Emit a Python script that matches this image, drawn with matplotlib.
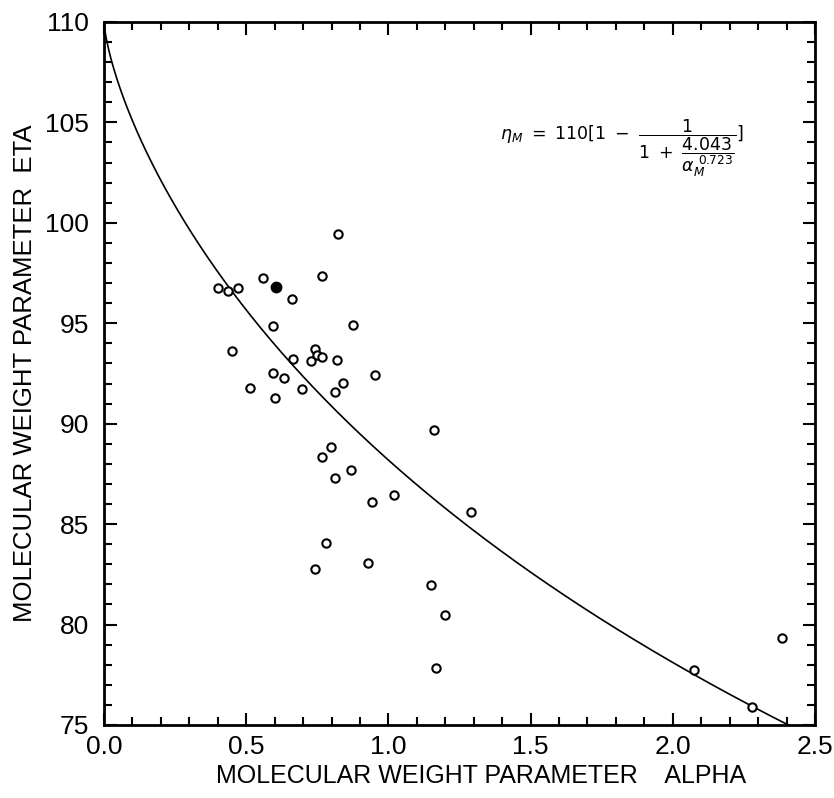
import numpy as np
import matplotlib
matplotlib.use("Agg")
import matplotlib.pyplot as plt
from matplotlib.ticker import MultipleLocator

# measured points (alpha, eta)
alpha_open = [0.824, 0.768, 0.558, 0.402, 0.435, 0.470, 0.660, 0.593, 0.874,
              0.449, 0.741, 0.748, 0.768, 0.729, 0.666, 0.820, 0.953, 0.595,
              0.633, 0.839, 0.512, 0.696, 0.811, 0.601, 1.161, 0.798, 0.768,
              0.869, 0.812, 1.019, 0.942, 1.292, 0.781, 0.927, 0.743, 1.150,
              1.200, 1.167, 2.075, 2.280, 2.385]
eta_open = [99.45, 97.37, 97.27, 96.76, 96.63, 96.74, 96.20, 94.87, 94.90,
            93.62, 93.71, 93.42, 93.31, 93.11, 93.21, 93.18, 92.40, 92.53,
            92.25, 92.03, 91.77, 91.73, 91.58, 91.27, 89.71, 88.83, 88.33,
            87.70, 87.30, 86.46, 86.12, 85.59, 84.05, 83.05, 82.77, 81.96,
            80.48, 77.83, 77.72, 75.92, 79.35]

alpha_filled = [0.605]
eta_filled = [96.80]

# fitted relation printed on the chart
eta_max = 110.0
coef = 4.043
expo = 0.723

x_ticks = [0.0, 0.5, 1.0, 1.5, 2.0, 2.5]
x_ticklabels = ["0.0", "0.5", "1.0", "1.5", "2.0", "2.5"]
y_ticks = [75, 80, 85, 90, 95, 100, 105, 110]

plt.rcParams["font.family"] = ["Liberation Sans", "DejaVu Sans"]

fig = plt.figure(figsize=(8.34, 7.98), dpi=100)
ax = fig.add_axes([0.1247, 0.0915, 0.8525, 0.881])

a = np.linspace(1e-5, 2.5, 600)
eta_fit = eta_max * (1 - 1 / (1 + coef / a ** expo))
ax.plot(a, eta_fit, color="black", lw=1.2)

ax.plot(alpha_open, eta_open, "o", mfc="white", mec="black", ms=6, mew=1.5)
ax.plot(alpha_filled, eta_filled, "o", mfc="black", mec="black", ms=7, mew=1.5)

ax.set_xlim(0, 2.5)
ax.set_ylim(75, 110)
ax.set_xticks(x_ticks)
ax.set_xticklabels(x_ticklabels)
ax.set_yticks(y_ticks)
ax.xaxis.set_minor_locator(MultipleLocator(0.1))
ax.yaxis.set_minor_locator(MultipleLocator(1))
ax.tick_params(which="both", direction="in", top=True, right=True, width=1.5,
               labelsize=19)
ax.tick_params(which="major", length=9)
ax.tick_params(which="minor", length=6)
ax.tick_params(axis="y", pad=11)
ax.tick_params(axis="x", pad=7)
for s in ax.spines.values():
    s.set_linewidth(2)

ax.set_xlabel("MOLECULAR WEIGHT PARAMETER    ALPHA", fontsize=18, labelpad=6)
ax.xaxis.set_label_coords(0.53, -0.055)
ax.set_ylabel("MOLECULAR WEIGHT PARAMETER  ETA", fontsize=18.5, labelpad=6)

ax.text(0.728, 0.82,
        r"$\eta_M\ =\ 110[1\ -\ \dfrac{1}{1\ +\ \dfrac{4.043}{\alpha_M^{\ 0.723}}}]$",
        transform=ax.transAxes, fontsize=12.5, ha="center", va="center")

fig.savefig("out.png", dpi=100)
